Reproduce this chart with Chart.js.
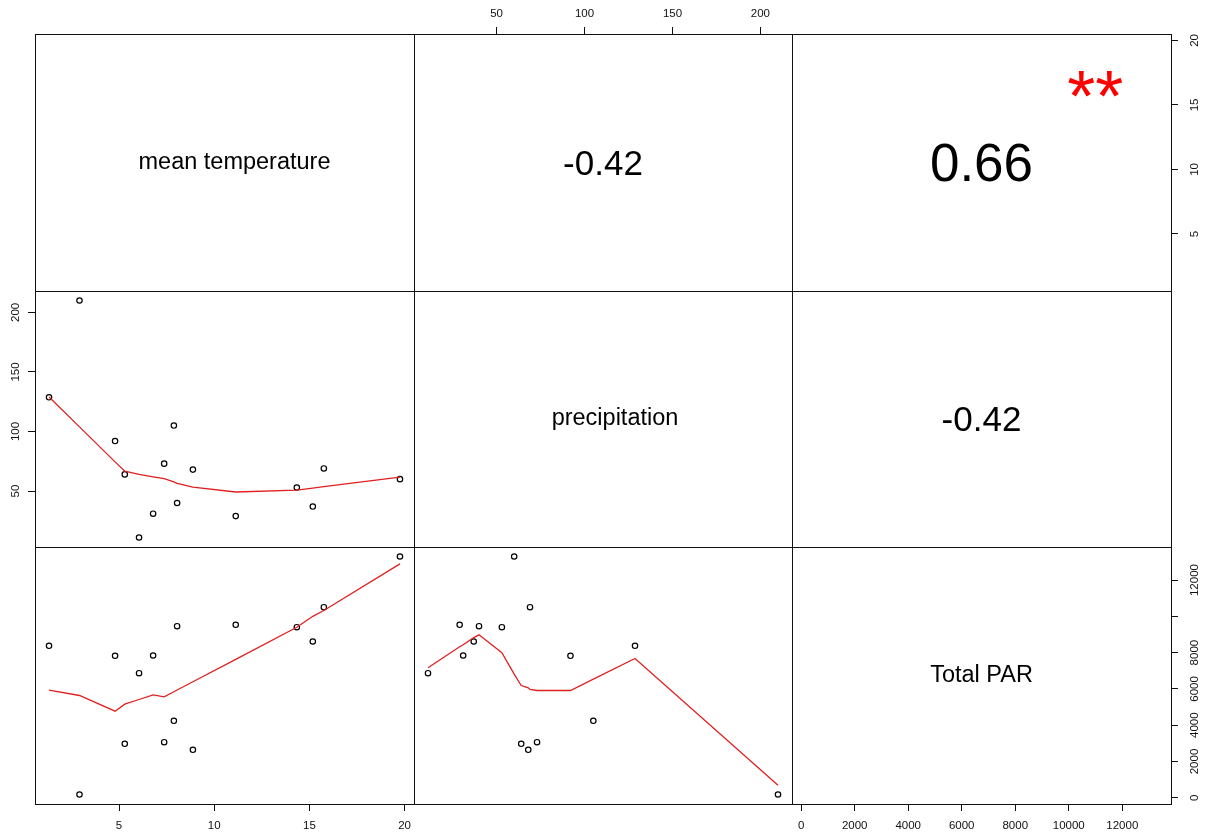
<!DOCTYPE html>
<html>
<head>
<meta charset="utf-8">
<title>pairs</title>
<script src="https://cdn.jsdelivr.net/npm/chart.js@4.4.1/dist/chart.umd.min.js"></script>
<style>
  html, body { margin: 0; padding: 0; background: #fff; }
  #wrap { position: relative; width: 1206px; height: 838px; overflow: hidden; }
  #wrap canvas { position: absolute; }
</style>
</head>
<body>
<div id="wrap"></div>
<script>
'use strict';

// ── data ────────────────────────────────────────────────────────────────────

const VAR_NAMES = ['mean temperature', 'precipitation', 'Total PAR'];

// one entry per site, ordered by temperature
const TEMP   = [1.32, 2.92, 4.79, 5.30, 6.05, 6.79, 7.37, 7.88, 8.05, 8.88, 11.13, 14.34, 15.18, 15.76, 19.76];
const PRECIP = [128.7, 210, 92, 64, 11, 31, 73, 105, 40, 68, 29, 53, 37, 69, 60];
const PAR    = [8375, 182, 7824, 2975, 6865, 7841, 3064, 4243, 9455, 2645, 9532, 9400, 8612, 10502, 13296];

// lowess fits at the sorted x values
const FIT_PRECIP_ON_TEMP = [128.9, 103.9, 74.5, 66.7, 64.0, 61.9, 60.4, 57.7, 56.4, 53.3, 49.2, 50.8, 52.5, 53.8, 61.7];
const FIT_PAR_ON_TEMP    = [5929, 5637, 4772, 5157, 5416, 5675, 5565, 5846, 5940, 6394, 7630, 9400, 10000, 10320, 12893];
const PRECIP_SORTED      = [11, 29, 31, 37, 40, 53, 60, 64, 68, 69, 73, 92, 105, 128.7, 210];
const FIT_PAR_ON_PRECIP  = [7163, 8320, 8437, 8827, 8981, 7990, 6816, 6188, 6061, 5967, 5912, 5912, 6535, 7675, 694];

// upper panels: (1,2) (1,3) (2,3)
const COR_LABELS = ['-0.42', '0.66', '-0.42'];
const COR_STARS  = ['', '**', ''];

const TEMP_TICKS   = [5, 10, 15, 20];
const PRECIP_TICKS = [50, 100, 150, 200];
const PAR_TICKS    = [0, 2000, 4000, 6000, 8000, 10000, 12000];
const TEMP_LABELS       = ['5', '10', '15', '20'];
const PRECIP_LABELS     = ['50', '100', '150', '200'];
const PAR_LABELS        = ['0', '2000', '4000', '6000', '8000', '10000', '12000'];
const PAR_RIGHT_LABELS  = ['0', '2000', '4000', '6000', '8000', '', '12000'];

// ── layout ──────────────────────────────────────────────────────────────────

const XS = [35, 414, 792, 1171];
const YS = [34, 291, 547, 804];
const M  = 40;              // room kept round every panel for its axes
const FONT = '"Liberation Sans", Arial, Helvetica, sans-serif';
const RED  = '#e02020';

const VALUES = [TEMP, PRECIP, PAR];
const TICKS  = [TEMP_TICKS, PRECIP_TICKS, PAR_TICKS];
const LABELS = [TEMP_LABELS, PRECIP_LABELS, PAR_LABELS];

// par('usr') style range: data range widened by 4% each side
function usr(vals) {
  const lo = Math.min(...vals), hi = Math.max(...vals), d = (hi - lo) * 0.04;
  return { min: lo - d, max: hi + d };
}

function axis(v, pos, shown, labels, pad) {
  const r = usr(VALUES[v]);
  const vertical = pos === 'left' || pos === 'right';
  const size = shown ? M : 0;
  return {
    type: 'linear', position: pos, display: shown, bounds: 'data',
    min: r.min, max: r.max,
    grid: { display: true, drawOnChartArea: false, drawTicks: true,
            tickLength: 7, tickWidth: 1, tickColor: '#111' },
    border: { display: false },
    ticks: {
      autoSkip: false, color: '#111', padding: pad,
      font: { family: FONT, size: 11.5 },
      minRotation: vertical ? 90 : 0, maxRotation: vertical ? 90 : 0,
      crossAlign: 'center',
      callback: (val, i) => labels[i],
    },
    afterBuildTicks: s => { s.ticks = TICKS[v].map(value => ({ value })); },
    afterFit: s => { if (vertical) s.width = size; else s.height = size; },
  };
}

// ── panel box + text ────────────────────────────────────────────────────────

const panelDecor = {
  id: 'panelDecor',
  afterDraw(chart, args, o) {
    const { ctx, chartArea: a } = chart;
    ctx.save();
    ctx.strokeStyle = '#111';
    ctx.lineWidth = 1;
    ctx.strokeRect(Math.round(a.left) + 0.5, Math.round(a.top) + 0.5,
                   Math.round(a.width), Math.round(a.height));
    const cx = (a.left + a.right) / 2, cy = (a.top + a.bottom) / 2;
    if (o.text) {
      ctx.fillStyle = '#000';
      ctx.textAlign = 'center';
      ctx.textBaseline = 'middle';
      ctx.font = `${o.size}px ${FONT}`;
      ctx.fillText(o.text, cx + (o.dx || 0), cy + (o.dy || 0));
    }
    if (o.stars) {
      ctx.fillStyle = '#ff0000';
      ctx.textAlign = 'center';
      ctx.textBaseline = 'alphabetic';
      ctx.font = `72px ${FONT}`;
      ctx.fillText(o.stars, a.left + 0.8 * a.width, a.bottom - 0.8 * a.height + 36);
    }
    ctx.restore();
  },
};

function pts(xs, ys) { return xs.map((x, i) => ({ x, y: ys[i] })); }

function panelData(r, c) {
  if (r <= c) return [];
  const xv = VALUES[c], yv = VALUES[r];
  let fx, fy;
  if (c === 0) { fx = TEMP; fy = r === 1 ? FIT_PRECIP_ON_TEMP : FIT_PAR_ON_TEMP; }
  else         { fx = PRECIP_SORTED; fy = FIT_PAR_ON_PRECIP; }
  return [
    { type: 'line', data: pts(fx, fy), borderColor: RED, borderWidth: 1.3,
      pointRadius: 0, fill: false, tension: 0 },
    { type: 'scatter', data: pts(xv, yv), pointStyle: 'circle', pointRadius: 2.7,
      borderWidth: 1.2, borderColor: '#000', backgroundColor: 'rgba(0,0,0,0)' },
  ];
}

function panelText(r, c) {
  if (r === c) return { text: VAR_NAMES[r], size: 23.5, dx: [10, 12, 0][r] };
  if (r < c) {
    const k = r === 0 ? c - 1 : 2;
    const size = COR_LABELS[k] === '0.66' ? 53 : 35;
    return { text: COR_LABELS[k], size, dy: size * 0.08, stars: COR_STARS[k] };
  }
  return {};
}

// ── build the 3x3 grid ──────────────────────────────────────────────────────

const wrap = document.getElementById('wrap');

for (let r = 0; r < 3; r++) {
  for (let c = 0; c < 3; c++) {
    const w = XS[c + 1] - XS[c], h = YS[r + 1] - YS[r];
    const cv = document.createElement('canvas');
    cv.width = w + 2 * M; cv.height = h + 2 * M;
    cv.style.left = (XS[c] - M) + 'px';
    cv.style.top  = (YS[r] - M) + 'px';
    wrap.appendChild(cv);

    // outer axes alternate sides, as in pairs()
    const xTop = r === 0 && c === 1;
    const xBottom = r === 2 && c !== 1;
    const yLeft = c === 0 && r === 1;
    const yRight = c === 2 && r !== 1;

    let yPad = 3;
    if (yLeft) yPad = 3;
    else if (r === 0) yPad = 10;
    else if (r === 2) yPad = 0.5;

    const x = axis(c, xTop ? 'top' : 'bottom', xTop || xBottom, LABELS[c], xTop ? 13 : 15);
    const y = axis(r, yLeft ? 'left' : 'right', yLeft || yRight,
                   r === 2 ? PAR_RIGHT_LABELS : LABELS[r], yPad);

    new Chart(cv, {
      type: 'scatter',
      data: { datasets: panelData(r, c) },
      options: {
        responsive: false, animation: false, events: [],
        layout: { padding: {
          left: yLeft ? 0 : M, right: yRight ? 0 : M,
          top: xTop ? 0 : M, bottom: xBottom ? 0 : M,
        } },
        scales: { x, y },
        plugins: { legend: { display: false }, tooltip: { enabled: false },
                   panelDecor: panelText(r, c) },
      },
      plugins: [panelDecor],
    });
  }
}
</script>
</body>
</html>
